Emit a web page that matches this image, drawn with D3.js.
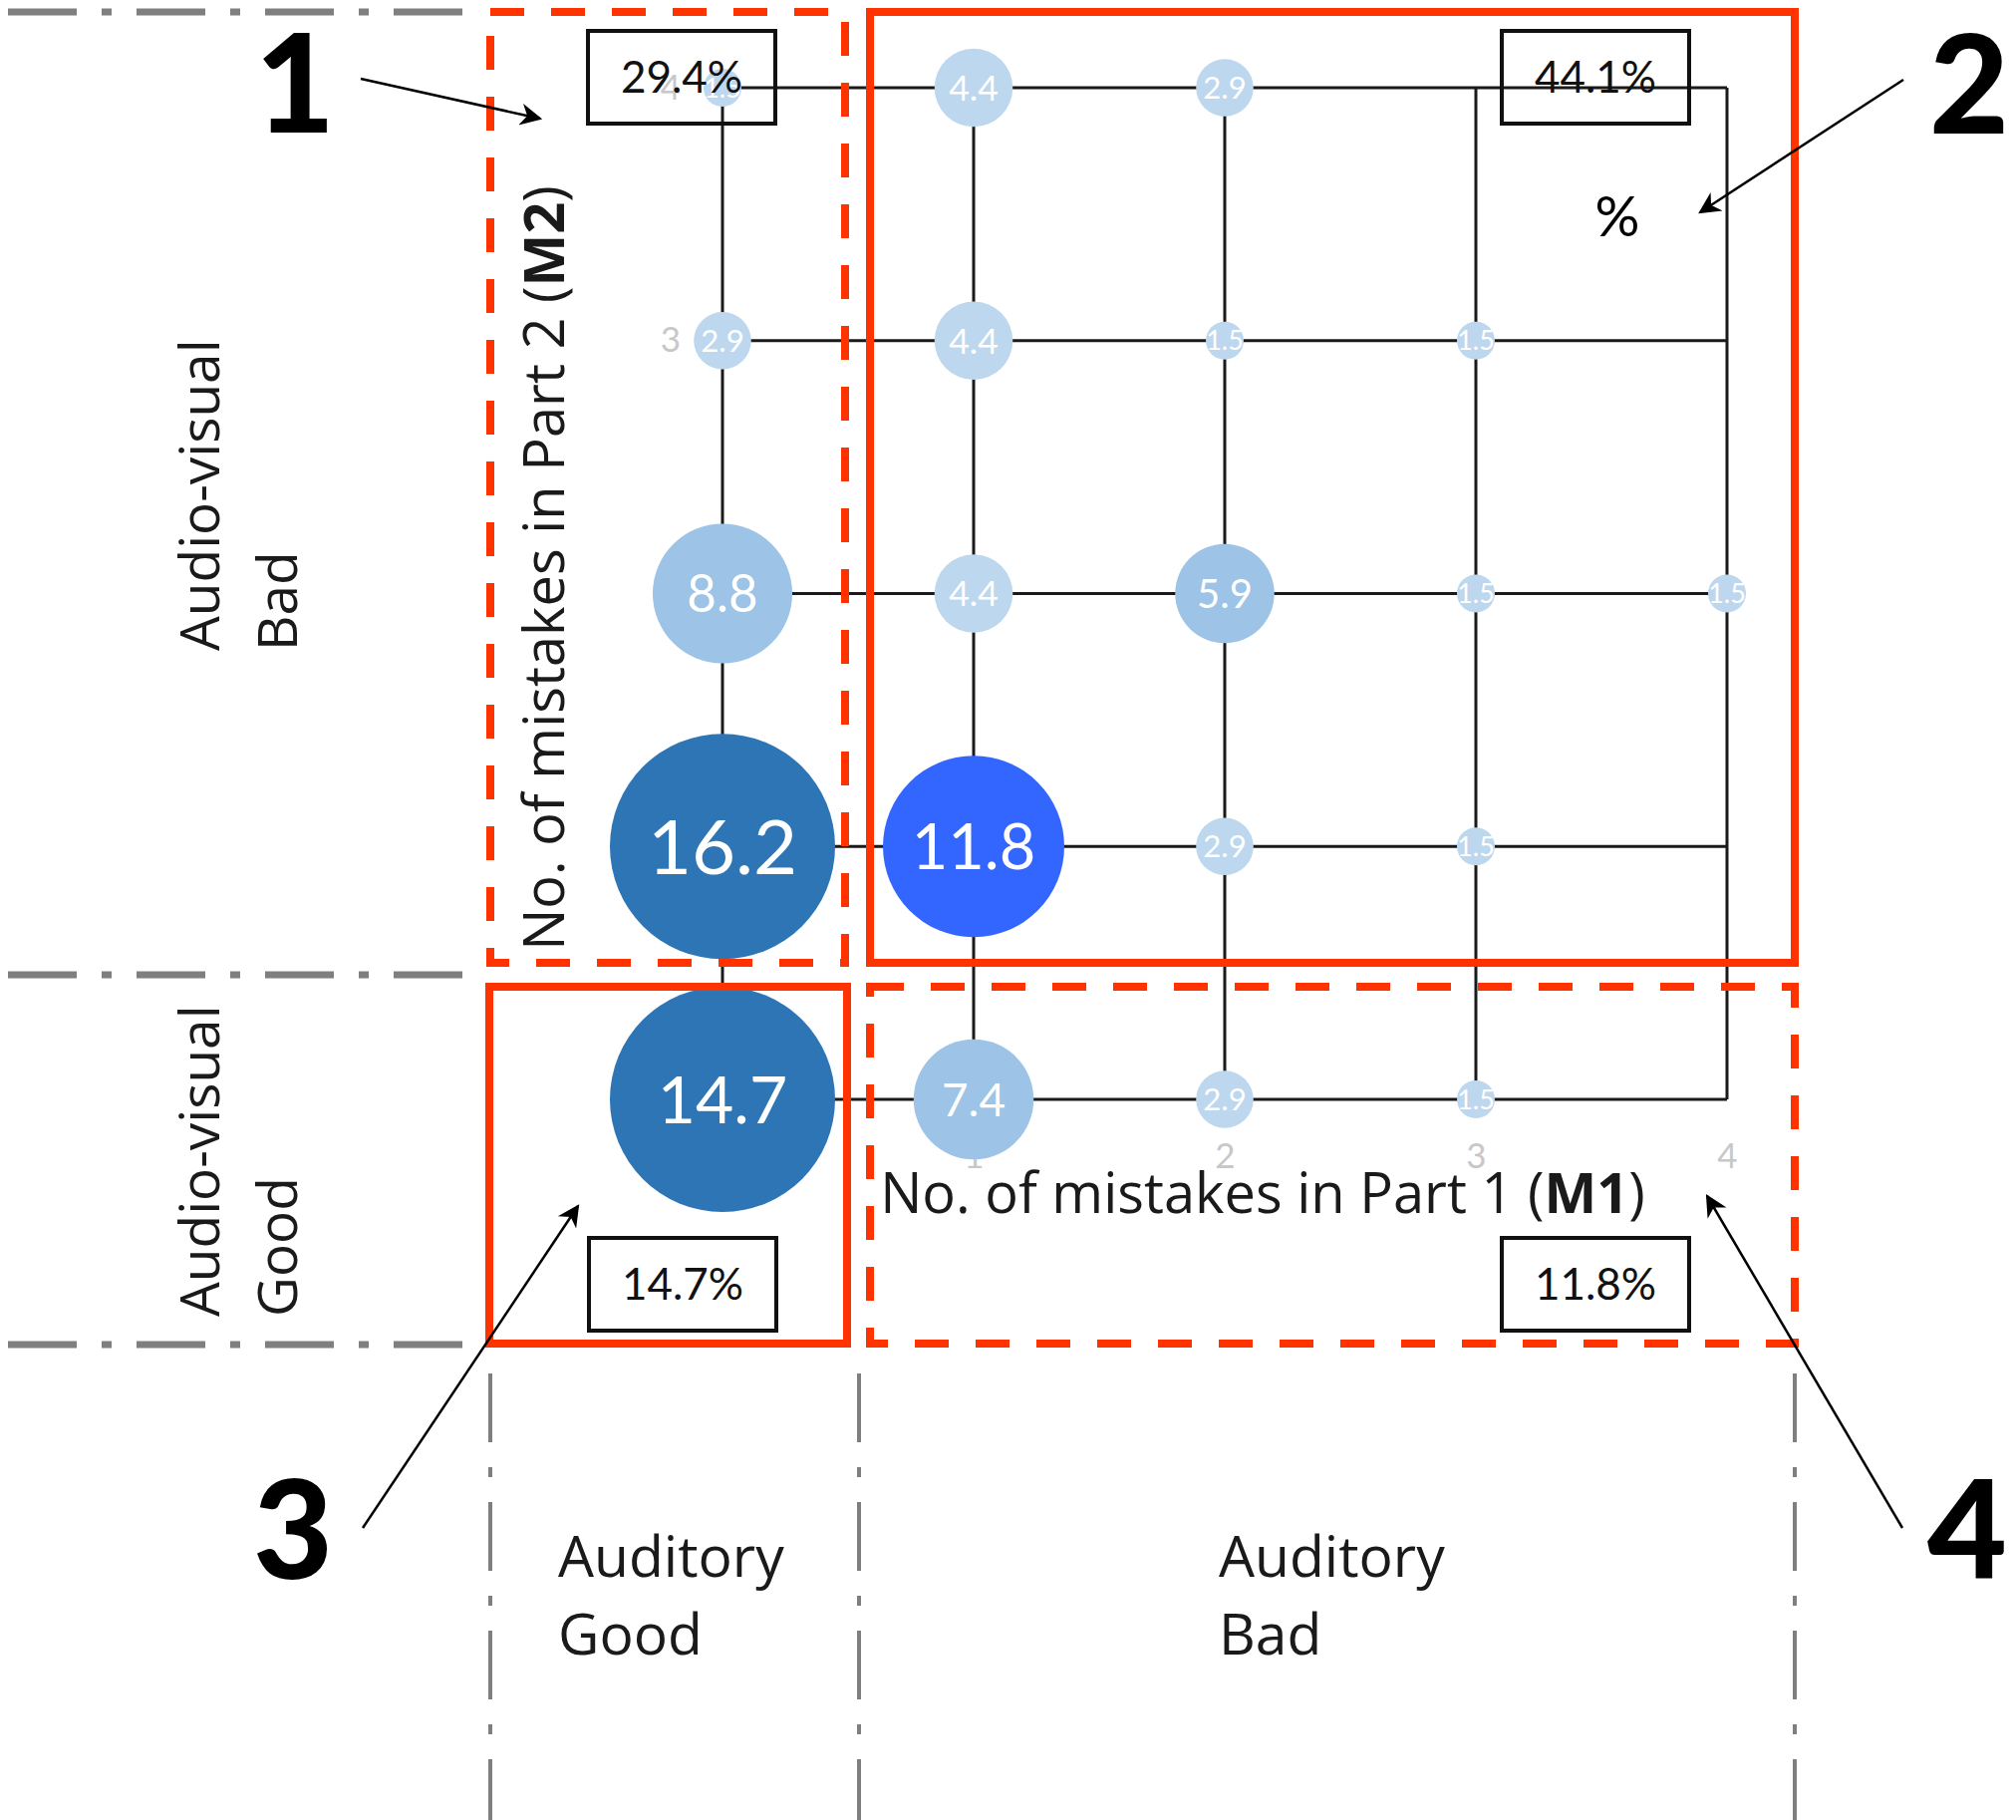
<!DOCTYPE html>
<html>
<head>
<meta charset="utf-8">
<script src="https://cdn.jsdelivr.net/npm/d3@7"></script>
<style>
  html, body { margin: 0; padding: 0; background: #fff; }
  svg { display: block; }
</style>
</head>
<body>
<script>
// ---- data: % of subjects per (M1, M2) cell ----
var m1Ticks = [0, 1, 2, 3, 4];
var m2Ticks = [0, 1, 2, 3, 4];
var cellM1  = [0, 1, 2,   0, 1, 2, 3,   0, 1, 2, 3, 4,   0, 1, 2, 3,   0, 1, 2, 3];
var cellM2  = [4, 4, 4,   3, 3, 3, 3,   2, 2, 2, 2, 2,   1, 1, 1, 1,   0, 0, 0, 0];
var cellPct = [1.5, 4.4, 2.9,   2.9, 4.4, 1.5, 1.5,   8.8, 4.4, 5.9, 1.5, 1.5,   16.2, 11.8, 2.9, 1.5,   14.7, 7.4, 2.9, 1.5];
// quadrant groups
var groupNames = ["1", "2", "3", "4"];
var groupPct = [29.4, 44.1, 14.7, 11.8];

var W = 2023, H = 1826;
var red = "#ff3300", gray = "#7f7f7f";

var svg = d3.select("body").append("svg")
  .attr("width", W)
  .attr("height", H);

var x = d3.scaleLinear().domain([0, 4]).range([725, 1733]);
var y = d3.scaleLinear().domain([0, 4]).range([1103, 88]);
var r = d3.scaleLinear().domain([1.5, 11.8, 14.7]).range([19, 91, 113]).clamp(true);
var fs = d3.scaleLinear().domain([1.5, 5.9, 11.8, 14.7, 16.2]).range([27, 40, 63, 66, 76]);
var col = d3.scaleThreshold().domain([5, 10, 14])
  .range(["#bdd7ee", "#9dc3e6", "#3366ff", "#2e75b6"]);

var cells = cellPct.map(function(v, i) { return {m1: cellM1[i], m2: cellM2[i], v: v}; });

// arrow head
svg.append("defs").append("marker")
  .attr("id", "head")
  .attr("markerUnits", "userSpaceOnUse")
  .attr("viewBox", "0 0 10 10")
  .attr("refX", 9).attr("refY", 5)
  .attr("markerWidth", 26).attr("markerHeight", 22)
  .attr("orient", "auto")
  .append("path")
  .attr("d", "M0,0 L10,5 L0,10 L3,5 Z")
  .attr("fill", "#000");

// ---- gray dash-dot separators ----
var hSep = [12, 978, 1349], vSep = [492, 862, 1801];
svg.selectAll("line.hsep").data(hSep).enter().append("line")
  .attr("class", "hsep")
  .attr("x1", 8).attr("x2", 470)
  .attr("y1", d => d).attr("y2", d => d)
  .attr("stroke", gray).attr("stroke-width", 7)
  .attr("stroke-dasharray", "69,25,10,25");
svg.selectAll("line.vsep").data(vSep).enter().append("line")
  .attr("class", "vsep")
  .attr("x1", d => d).attr("x2", d => d)
  .attr("y1", 1378).attr("y2", H)
  .attr("stroke", gray).attr("stroke-width", 4)
  .attr("stroke-dasharray", "69,25,10,25");

// ---- grid ----
var grid = svg.append("g").attr("stroke", "#1a1a1a").attr("stroke-width", 3);
grid.selectAll("line.h").data(m2Ticks).enter().append("line")
  .attr("x1", x(0)).attr("x2", x(4))
  .attr("y1", d => y(d)).attr("y2", d => y(d));
grid.selectAll("line.v").data(m1Ticks).enter().append("line")
  .attr("x1", d => x(d)).attr("x2", d => x(d))
  .attr("y1", y(0)).attr("y2", y(4));

// tick labels (mostly hidden behind bubbles)
svg.append("g")
  .attr("transform", "translate(0," + y(0) + ")")
  .call(d3.axisBottom(x).tickValues(m1Ticks).tickFormat(d3.format("d")).tickSize(0).tickPadding(44))
  .call(g => g.select(".domain").remove())
  .selectAll("text").attr("fill", "#c8c8c8").style("font", "35px Lato");
svg.append("g")
  .attr("transform", "translate(" + x(0) + ",0)")
  .call(d3.axisLeft(y).tickValues(m2Ticks).tickFormat(d3.format("d")).tickSize(0).tickPadding(42))
  .call(g => g.select(".domain").remove())
  .selectAll("text").attr("fill", "#c8c8c8").style("font", "35px Lato");

// ---- bubbles ----
var bub = svg.selectAll("g.bub").data(cells).enter().append("g")
  .attr("class", "bub")
  .attr("transform", d => "translate(" + x(d.m1) + "," + y(d.m2) + ")");
bub.append("circle")
  .attr("r", d => r(d.v))
  .attr("fill", d => col(d.v));
bub.append("text")
  .attr("text-anchor", "middle")
  .attr("dy", "0.36em")
  .attr("fill", "#fff")
  .style("font-family", "Lato")
  .style("font-size", d => fs(d.v) + "px")
  .text(d => d.v.toFixed(1));

// ---- quadrant frames ----
var frames = [
  {x0: 492, x1: 848, y0: 12, y1: 966, dash: true},
  {x0: 873, x1: 1801, y0: 12, y1: 966, dash: false},
  {x0: 491, x1: 850, y0: 990, y1: 1348, dash: false},
  {x0: 873, x1: 1801, y0: 990, y1: 1348, dash: true}
];
svg.selectAll("rect.frame").data(frames).enter().append("rect")
  .attr("class", "frame")
  .attr("x", d => d.x0).attr("y", d => d.y0)
  .attr("width", d => d.x1 - d.x0).attr("height", d => d.y1 - d.y0)
  .attr("fill", "none").attr("stroke", red).attr("stroke-width", 8)
  .attr("stroke-dasharray", d => d.dash ? "34,27" : null);

// quadrant percentage boxes
var boxPos = [[590, 31], [1507, 31], [591, 1242], [1507, 1242]];
var boxW = 188, boxH = 93;
var pbox = svg.selectAll("g.pbox").data(groupPct).enter().append("g")
  .attr("class", "pbox")
  .attr("transform", (d, i) => "translate(" + boxPos[i][0] + "," + boxPos[i][1] + ")");
pbox.append("rect")
  .attr("width", boxW).attr("height", boxH)
  .attr("fill", "none").attr("stroke", "#111").attr("stroke-width", 4);
pbox.append("text")
  .attr("x", boxW / 2).attr("y", boxH / 2)
  .attr("dy", "0.36em")
  .attr("text-anchor", "middle")
  .style("font", "44px Lato")
  .attr("fill", "#111")
  .text(d => d.toFixed(1) + "%");

svg.append("text")
  .attr("x", 1623).attr("y", 217).attr("dy", "0.36em")
  .attr("text-anchor", "middle")
  .style("font", "56px Lato")
  .text("%");

// ---- big quadrant numbers + arrows ----
var numPos = [[296, 133], [1976, 134], [294, 1584], [1974, 1584]];
svg.selectAll("text.num").data(groupNames).enter().append("text")
  .attr("class", "num")
  .attr("x", (d, i) => numPos[i][0]).attr("y", (d, i) => numPos[i][1])
  .attr("text-anchor", "middle")
  .style("font-family", "Lato").style("font-weight", "900").style("font-size", "138px")
  .text(d => d);

var arrows = [
  [362, 79, 542, 119],
  [1910, 80, 1706, 213],
  [364, 1533, 580, 1210],
  [1909, 1533, 1713, 1200]
];
svg.selectAll("line.arrow").data(arrows).enter().append("line")
  .attr("class", "arrow")
  .attr("x1", d => d[0]).attr("y1", d => d[1])
  .attr("x2", d => d[2]).attr("y2", d => d[3])
  .attr("stroke", "#000").attr("stroke-width", 2.5)
  .attr("marker-end", "url(#head)");

// ---- axis titles ----
var t1 = svg.append("text")
  .attr("x", 1267).attr("y", 1217)
  .attr("text-anchor", "middle")
  .style("font", "56px 'Open Sans'")
  .attr("fill", "#1a1a1a");
t1.append("tspan").text("No. of mistakes in Part 1 (");
t1.append("tspan").style("font-weight", "bold").text("M1");
t1.append("tspan").text(")");

var t2 = svg.append("text")
  .attr("transform", "translate(566,570) rotate(-90)")
  .attr("text-anchor", "middle")
  .style("font", "56px 'Open Sans'")
  .attr("fill", "#1a1a1a");
t2.append("tspan").text("No. of mistakes in Part 2 (");
t2.append("tspan").style("font-weight", "bold").text("M2");
t2.append("tspan").text(")");

// ---- row / column group labels ----
var rowLab = [
  {y: 653, lines: ["Audio-visual", "Bad"]},
  {y: 1321, lines: ["Audio-visual", "Good"]}
];
rowLab.forEach(function(d) {
  d.lines.forEach(function(s, j) {
    svg.append("text")
      .attr("transform", "translate(" + (220 + j * 78) + "," + d.y + ") rotate(-90)")
      .style("font", "55px 'Open Sans'")
      .attr("fill", "#1a1a1a")
      .text(s);
  });
});

var colLab = [
  {x: 560, lines: ["Auditory", "Good"]},
  {x: 1223, lines: ["Auditory", "Bad"]}
];
colLab.forEach(function(d) {
  d.lines.forEach(function(s, j) {
    svg.append("text")
      .attr("x", d.x).attr("y", 1582 + j * 78)
      .style("font", "57px 'Open Sans'")
      .attr("fill", "#1a1a1a")
      .text(s);
  });
});
</script>
</body>
</html>
